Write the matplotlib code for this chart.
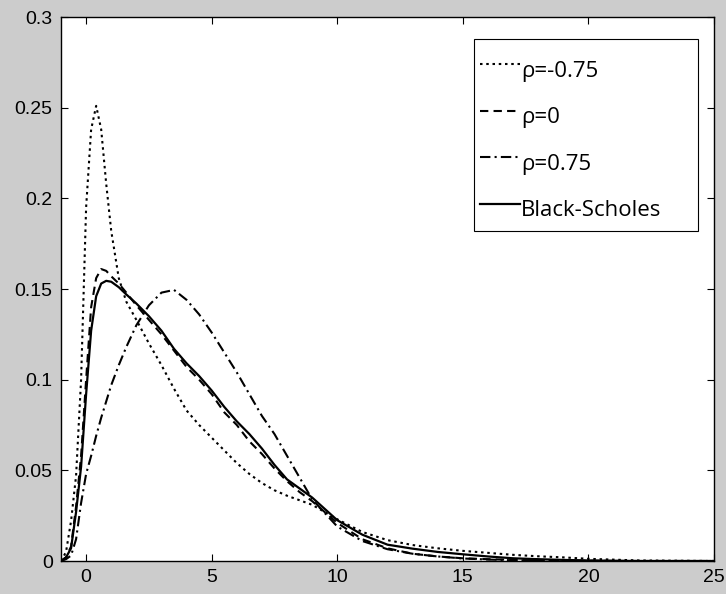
import numpy as np
import matplotlib
matplotlib.use("Agg")
import matplotlib.pyplot as plt
from matplotlib.legend_handler import HandlerLine2D
from matplotlib.patches import Rectangle

# sample points (shared x grid)
x = [-1, -0.8, -0.6, -0.4, -0.2, 0, 0.2, 0.4, 0.6, 0.8, 1.0, 1.3, 1.6, 2.0,
     2.5, 3, 3.5, 4, 4.5, 5, 5.5, 6, 6.5, 7, 7.5, 8, 8.5, 9, 10, 11, 12, 13,
     14, 15, 16, 17, 18, 19, 20, 22, 25]

rho_neg = [0, 0.005, 0.022, 0.047, 0.1, 0.195, 0.238, 0.251, 0.238, 0.208,
           0.182, 0.156, 0.143, 0.133, 0.12, 0.108, 0.095, 0.083, 0.075,
           0.068, 0.061, 0.054, 0.048, 0.043, 0.039, 0.036, 0.0335, 0.031,
           0.023, 0.016, 0.0115, 0.0088, 0.007, 0.0056, 0.0045, 0.0034,
           0.0026, 0.002, 0.0012, 0.0003, 0]

rho_zero = [0, 0.002, 0.008, 0.03, 0.058, 0.1, 0.14, 0.156, 0.161, 0.16,
            0.157, 0.153, 0.148, 0.141, 0.133, 0.125, 0.116, 0.107, 0.1,
            0.092, 0.082, 0.075, 0.066, 0.059, 0.051, 0.044, 0.038, 0.033,
            0.021, 0.012, 0.007, 0.004, 0.0025, 0.0015, 0.001, 0.0006,
            0.0003, 0.0002, 0.0001, 0, 0]

rho_pos = [0, 0.001, 0.003, 0.012, 0.032, 0.048, 0.058, 0.069, 0.079, 0.088,
           0.097, 0.108, 0.118, 0.13, 0.141, 0.148, 0.1495, 0.144, 0.136,
           0.126, 0.115, 0.104, 0.092, 0.08, 0.07, 0.058, 0.046, 0.034,
           0.019, 0.011, 0.0065, 0.004, 0.0025, 0.0014, 0.0008, 0.0004,
           0.0002, 0.0001, 0, 0, 0]

black_scholes = [0, 0.002, 0.007, 0.027, 0.052, 0.092, 0.127, 0.146, 0.153,
                 0.1545, 0.154, 0.151, 0.147, 0.142, 0.135, 0.127, 0.117,
                 0.109, 0.102, 0.094, 0.085, 0.077, 0.07, 0.062, 0.053,
                 0.045, 0.04, 0.035, 0.0225, 0.0145, 0.009, 0.0068, 0.005,
                 0.0037, 0.0025, 0.0015, 0.001, 0.0006, 0.0003, 0, 0]

labels = ["\u03c1=-0.75", "\u03c1=0", "\u03c1=0.75", "Black-Scholes"]
xticks = [0, 5, 10, 15, 20, 25]
yticks = [0, 0.05, 0.1, 0.15, 0.2, 0.25, 0.3]
ytick_labels = ["0", "0.05", "0.1", "0.15", "0.2", "0.25", "0.3"]


class RaisedLine(HandlerLine2D):
    # matlab draws the legend sample level with the top of the text
    def create_artists(self, legend, orig_handle, xdescent, ydescent,
                       width, height, fontsize, trans):
        arts = super().create_artists(legend, orig_handle, xdescent, ydescent,
                                      width, height, fontsize, trans)
        for a in arts:
            a.set_ydata(np.asarray(a.get_ydata()) + 0.3 * height)
        return arts


fig = plt.figure(figsize=(7.26, 5.94), dpi=100, facecolor="#cccccc")
ax = fig.add_axes([61 / 726, 33 / 594, 653 / 726, 544 / 594])
ax.set_facecolor("white")

ax.plot(x, rho_neg, color="black", lw=1.5, ls=(0, (1.2, 1.8)), label=labels[0])
ax.plot(x, rho_zero, color="black", lw=1.5, ls=(0, (4, 2.5)), label=labels[1])
ax.plot(x, rho_pos, color="black", lw=1.5, ls=(0, (5, 2, 1, 2)), label=labels[2])
ax.plot(x, black_scholes, color="black", lw=1.6, ls="-", label=labels[3])

ax.set_xlim(-1, 25)
ax.set_ylim(0, 0.3)
ax.set_xticks(xticks)
ax.set_xticklabels([str(t) for t in xticks])
ax.set_yticks(yticks)
ax.set_yticklabels(ytick_labels)
ax.tick_params(direction="in", length=5, width=0.8, top=True, right=True,
               labelsize=14, pad=6, colors="black")
for lab in ax.get_xticklabels() + ax.get_yticklabels():
    lab.set_family("Liberation Sans")
for sp in ax.spines.values():
    sp.set_linewidth(1.0)

# legend frame drawn separately so the entries can sit where matlab put them
ax.add_patch(Rectangle((0.632, 0.6066), 0.343, 0.353, transform=ax.transAxes,
                       facecolor="white", edgecolor="black", lw=0.8, zorder=4))
leg = ax.legend(loc="upper left", bbox_to_anchor=(0.6417, 0.9196),
                borderaxespad=0, borderpad=0, frameon=False,
                prop={"family": "Open Sans", "size": 16},
                handlelength=1.8, handletextpad=0.05, labelspacing=1.15,
                handler_map={matplotlib.lines.Line2D: RaisedLine()})
leg.set_zorder(5)

fig.savefig("out.png", dpi=100, facecolor=fig.get_facecolor())
